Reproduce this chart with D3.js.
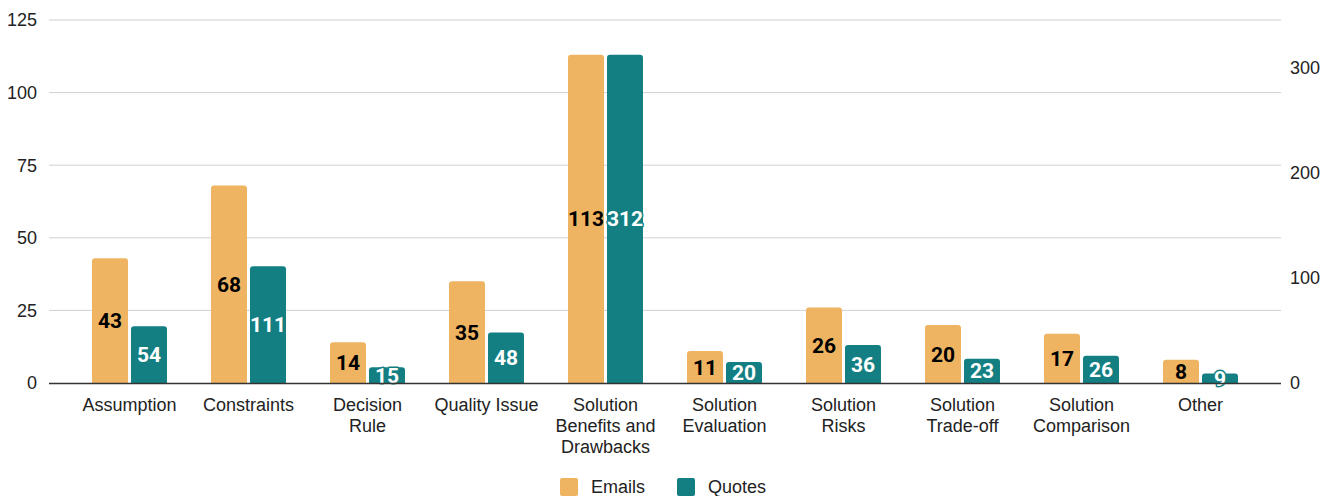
<!DOCTYPE html>
<html>
<head>
<meta charset="utf-8">
<script src="https://cdn.jsdelivr.net/npm/d3@7"></script>
<style>
  body { margin: 0; background: #fff; }
  svg text { font-family: Arial, "Liberation Sans", sans-serif; }
  .val { font-family: Roboto, sans-serif; font-weight: bold; font-size: 21px; }
</style>
</head>
<body>
<div id="chart"></div>
<script>
const categories = [
  ["Assumption"], ["Constraints"], ["Decision", "Rule"], ["Quality Issue"],
  ["Solution", "Benefits and", "Drawbacks"], ["Solution", "Evaluation"],
  ["Solution", "Risks"], ["Solution", "Trade-off"], ["Solution", "Comparison"], ["Other"]
];
const emails = [43, 68, 14, 35, 113, 11, 26, 20, 17, 8];
const quotes = [54, 111, 15, 48, 312, 20, 36, 23, 26, 9];
const leftTicks = [0, 25, 50, 75, 100, 125];
const rightTicks = [0, 100, 200, 300];
const seriesNames = ["Emails", "Quotes"];
const colors = { Emails: "#EEB462", Quotes: "#137F82" };

const width = 1333, height = 496;
const svg = d3.select("#chart").append("svg").attr("width", width).attr("height", height);

const names = categories.map(c => c.join(" "));
const x = d3.scaleBand().domain(names).range([70, 1260]).paddingInner(0.37).paddingOuter(0.185);
const x1 = d3.scaleBand().domain(seriesNames).range([0, x.bandwidth()]).paddingInner(0.077);
const yL = d3.scaleLinear().domain([0, 125]).range([383, 20]);
const yR = d3.scaleLinear().domain([0, 345]).range([383, 20]);

// gridlines
svg.append("g").selectAll("line").data(leftTicks.slice(1)).enter().append("line")
  .attr("x1", 49).attr("x2", 1281)
  .attr("y1", d => yL(d)).attr("y2", d => yL(d))
  .attr("stroke", "#d0d0d0").attr("stroke-width", 1);

// left axis labels
svg.append("g").selectAll("text").data(leftTicks).enter().append("text")
  .attr("x", 37).attr("y", d => yL(d)).attr("dy", "0.35em")
  .attr("text-anchor", "end").attr("font-size", 18).attr("fill", "#222")
  .text(d => d);

// right axis labels
svg.append("g").selectAll("text").data(rightTicks).enter().append("text")
  .attr("x", 1290).attr("y", d => yR(d)).attr("dy", "0.35em")
  .attr("text-anchor", "start").attr("font-size", 18).attr("fill", "#222")
  .text(d => d);

// rounded-top bar path
function barPath(x0, w, yTop, yBot, r) {
  r = Math.min(r, (yBot - yTop), w / 2);
  return "M" + x0 + "," + yBot + "V" + (yTop + r) +
    "Q" + x0 + "," + yTop + " " + (x0 + r) + "," + yTop +
    "H" + (x0 + w - r) + "Q" + (x0 + w) + "," + yTop + " " + (x0 + w) + "," + (yTop + r) +
    "V" + yBot + "Z";
}

const rows = names.map((n, i) => ({ name: n, Emails: emails[i], Quotes: quotes[i] }));
const scaleFor = { Emails: yL, Quotes: yR };

const groups = svg.append("g").selectAll("g").data(rows).enter().append("g")
  .attr("transform", d => "translate(" + x(d.name) + ",0)");

groups.selectAll("path").data(d => seriesNames.map(s => ({ s: s, v: d[s] }))).enter().append("path")
  .attr("d", d => barPath(x1(d.s), x1.bandwidth(), scaleFor[d.s](d.v), 383, 3))
  .attr("fill", d => colors[d.s]);

// axis baseline
svg.append("line").attr("x1", 49).attr("x2", 1281).attr("y1", 383.5).attr("y2", 383.5)
  .attr("stroke", "#333").attr("stroke-width", 1.3);

// value labels
groups.selectAll("text.val").data(d => seriesNames.map(s => ({ s: s, v: d[s] }))).enter().append("text")
  .attr("class", "val")
  .attr("x", d => x1(d.s) + x1.bandwidth() / 2)
  .attr("y", d => (scaleFor[d.s](d.v) + 383) / 2)
  .attr("dy", "0.36em")
  .attr("text-anchor", "middle")
  .attr("fill", d => d.s === "Emails" ? "#000" : "#fff")
  .attr("stroke", d => d.s === "Emails" ? "none" : colors.Quotes)
  .attr("stroke-width", 3)
  .attr("paint-order", "stroke")
  .attr("stroke-linejoin", "round")
  .text(d => d.v);

// category labels
const catG = svg.append("g").selectAll("text").data(categories).enter().append("text")
  .attr("x", (d, i) => x(names[i]) + x.bandwidth() / 2)
  .attr("y", 405).attr("text-anchor", "middle").attr("font-size", 18).attr("fill", "#222");
catG.selectAll("tspan").data(d => d).enter().append("tspan")
  .attr("x", function() { return d3.select(this.parentNode).attr("x"); })
  .attr("dy", (d, i) => i === 0 ? "0.35em" : 21)
  .text(d => d);

// legend
const legendX = [560, 677];
const leg = svg.append("g").selectAll("g").data(seriesNames).enter().append("g")
  .attr("transform", (d, i) => "translate(" + legendX[i] + ",478)");
leg.append("rect").attr("width", 18).attr("height", 18).attr("rx", 2).attr("fill", d => colors[d]);
leg.append("text").attr("x", 31).attr("y", 9).attr("dy", "0.35em")
  .attr("font-size", 18).attr("fill", "#222").text(d => d);
</script>
</body>
</html>
